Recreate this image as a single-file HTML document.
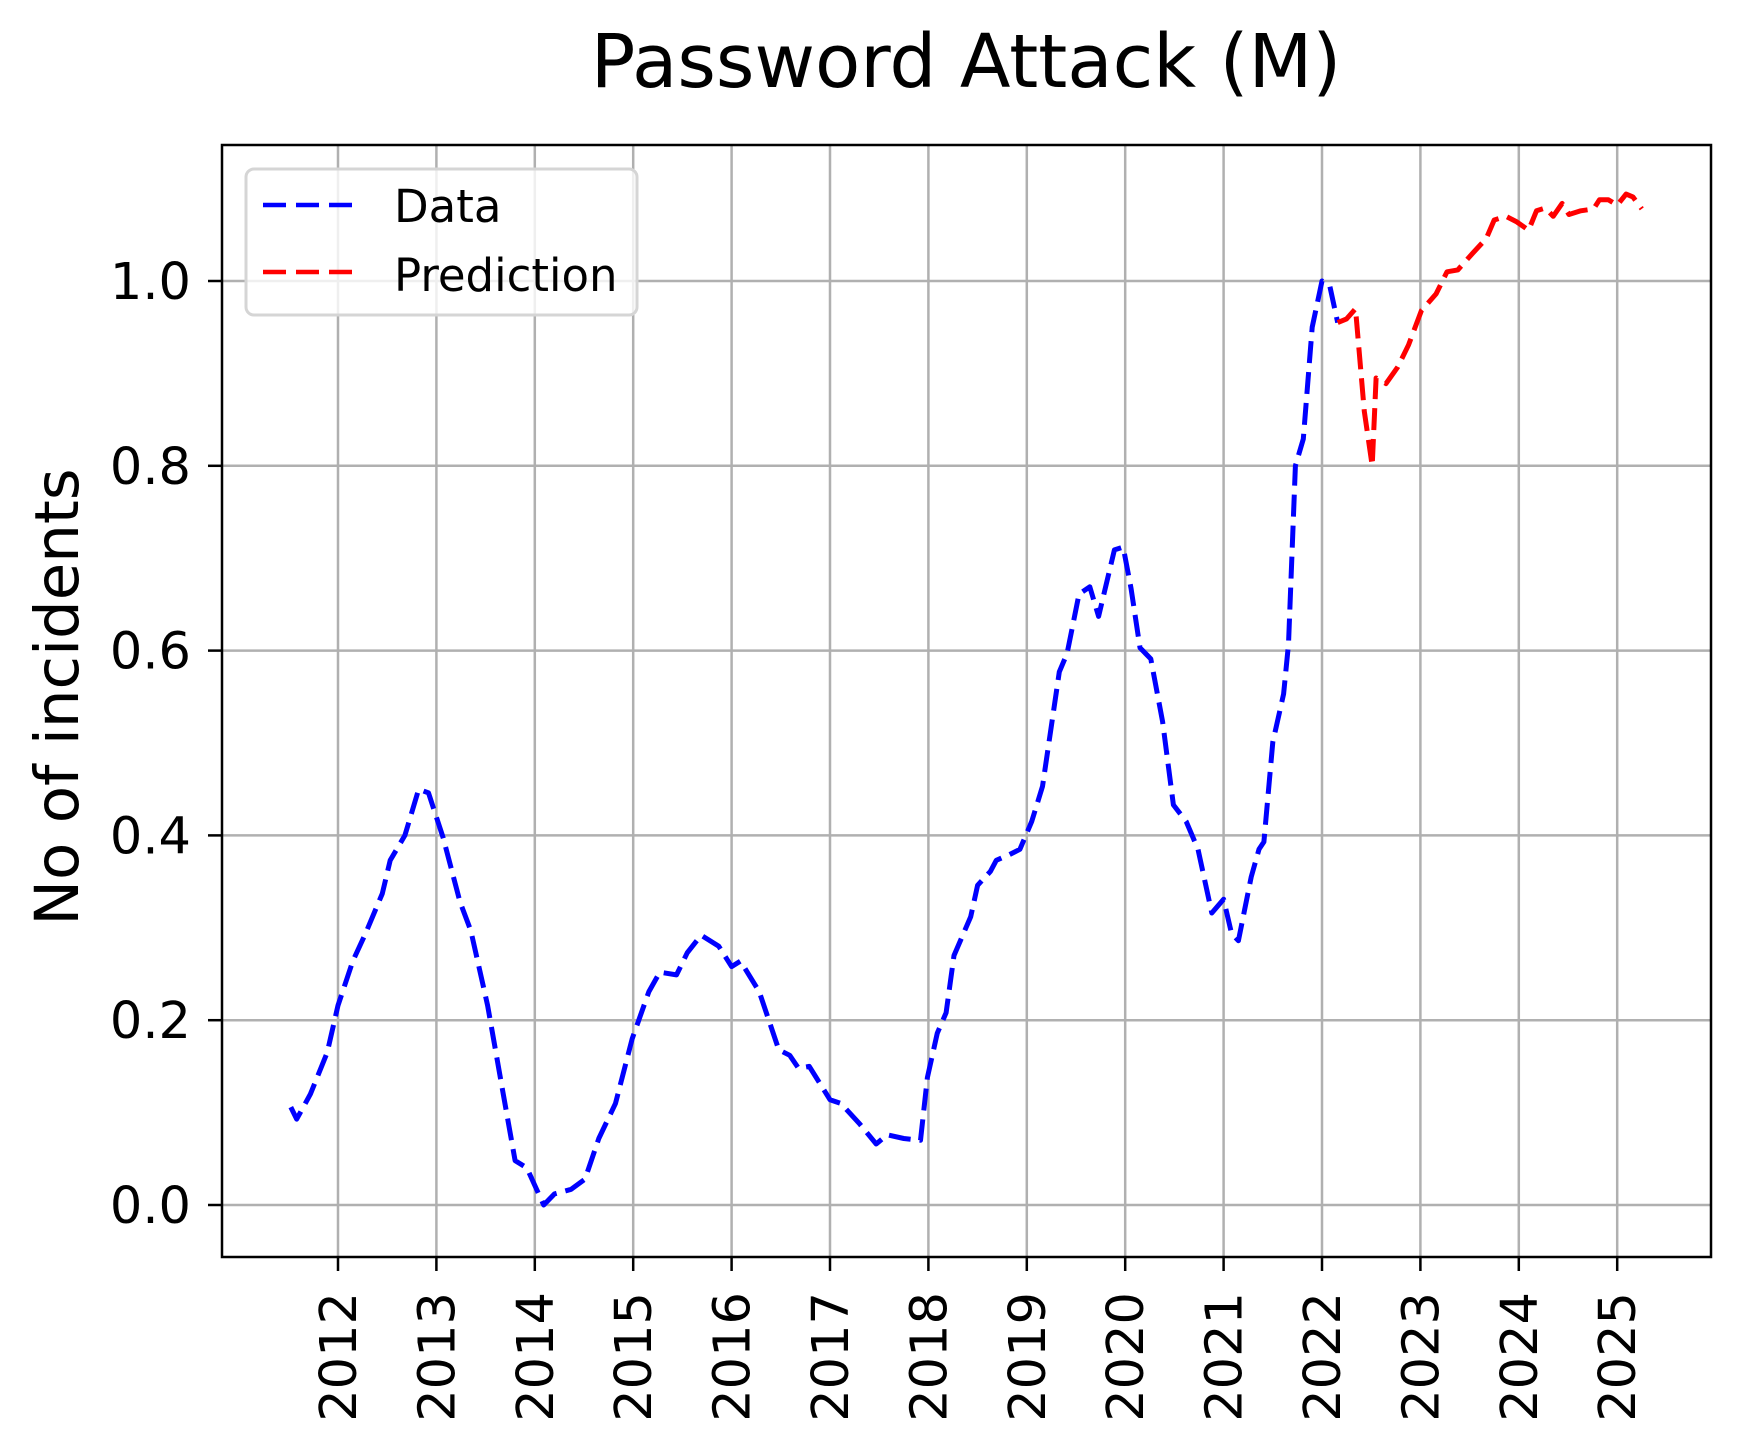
<!DOCTYPE html>
<html><head><meta charset="utf-8"><style>
html,body{margin:0;padding:0;background:#fff;}
svg{display:block;font-family:"DejaVu Sans","Liberation Sans",sans-serif;}
</style></head><body>
<svg id="chart" width="1740" height="1451" viewBox="0 0 1740 1451">
<rect width="1740" height="1451" fill="#fff"/>
<g id="grid"></g>
<g id="series"></g>
<rect x="222" y="145" width="1489" height="1112" fill="none" stroke="#000" stroke-width="2.5"/>
<g id="ticks"></g>
<text x="966" y="87" font-size="74" text-anchor="middle">Password Attack (M)</text>
<text x="0" y="0" font-size="61" text-anchor="middle" transform="translate(78,697) rotate(-90)">No of incidents</text>
<g>
<rect x="246" y="169" width="391" height="146" rx="8" fill="#fff" fill-opacity="0.8" stroke="#d5d5d5" stroke-width="3"/>
<line x1="263" y1="205" x2="353" y2="205" stroke="#0000ff" stroke-width="4.5" stroke-dasharray="23,10"/>
<text x="394" y="222" font-size="45">Data</text>
<line x1="263" y1="272" x2="353" y2="272" stroke="#ff0000" stroke-width="4.5" stroke-dasharray="23,10"/>
<text x="394" y="291" font-size="45">Prediction</text>
</g>
</svg>
<script>
const dataYears=[2011.52,2011.58,2011.72,2011.89,2012.0,2012.15,2012.28,2012.45,2012.53,2012.68,2012.82,2012.92,2013.07,2013.24,2013.35,2013.52,2013.66,2013.80,2013.92,2014.09,2014.20,2014.37,2014.51,2014.65,2014.82,2014.99,2015.16,2015.27,2015.44,2015.55,2015.69,2015.87,2016.0,2016.09,2016.28,2016.48,2016.59,2016.68,2016.79,2017.0,2017.11,2017.30,2017.47,2017.58,2017.75,2017.92,2017.99,2018.09,2018.18,2018.26,2018.43,2018.50,2018.63,2018.69,2018.82,2018.93,2019.05,2019.16,2019.33,2019.41,2019.53,2019.64,2019.73,2019.89,2019.98,2020.06,2020.15,2020.26,2020.38,2020.49,2020.62,2020.74,2020.88,2021.0,2021.08,2021.15,2021.28,2021.36,2021.41,2021.50,2021.61,2021.66,2021.73,2021.81,2021.90,2022.0,2022.08,2022.16];
const dataValues=[0.106,0.093,0.12,0.165,0.216,0.264,0.294,0.337,0.373,0.40,0.45,0.446,0.397,0.328,0.297,0.216,0.132,0.048,0.04,0.0,0.012,0.017,0.028,0.072,0.11,0.18,0.231,0.252,0.249,0.273,0.292,0.28,0.258,0.264,0.231,0.168,0.162,0.148,0.15,0.114,0.11,0.088,0.066,0.076,0.072,0.07,0.138,0.186,0.208,0.27,0.312,0.346,0.361,0.373,0.379,0.385,0.415,0.453,0.577,0.597,0.661,0.669,0.637,0.709,0.712,0.667,0.603,0.591,0.523,0.433,0.415,0.385,0.316,0.331,0.294,0.286,0.355,0.385,0.393,0.501,0.553,0.607,0.80,0.829,0.95,1.0,0.994,0.955];
const predYears=[2022.16,2022.25,2022.34,2022.43,2022.51,2022.55,2022.65,2022.77,2022.88,2023.01,2023.16,2023.27,2023.38,2023.53,2023.67,2023.75,2023.87,2023.98,2024.10,2024.18,2024.27,2024.35,2024.44,2024.51,2024.63,2024.76,2024.82,2024.91,2025.0,2025.09,2025.16,2025.25];
const predValues=[0.955,0.959,0.97,0.859,0.80,0.895,0.889,0.907,0.931,0.968,0.986,1.01,1.012,1.03,1.046,1.066,1.07,1.064,1.055,1.076,1.079,1.07,1.084,1.072,1.076,1.078,1.088,1.088,1.082,1.094,1.091,1.078];
const xTicks=[2012,2013,2014,2015,2016,2017,2018,2019,2020,2021,2022,2023,2024,2025];
const yTicks=[0.0,0.2,0.4,0.6,0.8,1.0];
const yTickLabels=["0.0","0.2","0.4","0.6","0.8","1.0"];

const NS="http://www.w3.org/2000/svg";
function xs(y){return 338+(y-2012)*98.4;}
function ys(v){return 1205-v*924;}
function mk(tag,attrs,parent){const e=document.createElementNS(NS,tag);for(const k in attrs)e.setAttribute(k,attrs[k]);parent.appendChild(e);return e;}
const grid=document.getElementById('grid'),ticks=document.getElementById('ticks'),series=document.getElementById('series');
xTicks.forEach(t=>{
  const g=mk('line',{x1:xs(t),x2:xs(t),y1:145,y2:1257,stroke:'#b0b0b0','stroke-width':2.5},grid);
  
  
  const tk=mk('line',{x1:xs(t),x2:xs(t),y1:1257,y2:1271,stroke:'#000','stroke-width':2.5},ticks);
  
  
  const tx=mk('text',{x:0,y:0,'font-size':51,'text-anchor':'end',transform:`translate(${xs(t)+18},1292) rotate(-90)`},ticks);
  tx.textContent=String(t);
  
  
});
yTicks.forEach((t,i)=>{
  const g=mk('line',{x1:222,x2:1711,y1:ys(t),y2:ys(t),stroke:'#b0b0b0','stroke-width':2.5},grid);
  
  
  const tk=mk('line',{x1:208,x2:222,y1:ys(t),y2:ys(t),stroke:'#000','stroke-width':2.5},ticks);
  
  
  const tx=mk('text',{x:191,y:ys(t)+18,'font-size':51,'text-anchor':'end'},ticks);
  tx.textContent=yTickLabels[i];
  
  
});
function pathOf(xv,yv){return xv.map((x,i)=>(i?'L':'M')+xs(x).toFixed(1)+','+ys(yv[i]).toFixed(1)).join(' ');}
const d=mk('path',{d:pathOf(dataYears,dataValues),fill:'none',stroke:'#0000ff','stroke-width':5,'stroke-dasharray':'22,9','stroke-linejoin':'round'},series);


const p=mk('path',{d:pathOf(predYears,predValues),fill:'none',stroke:'#ff0000','stroke-width':5,'stroke-dasharray':'22,9','stroke-linejoin':'round'},series);


</script>
</body></html>
